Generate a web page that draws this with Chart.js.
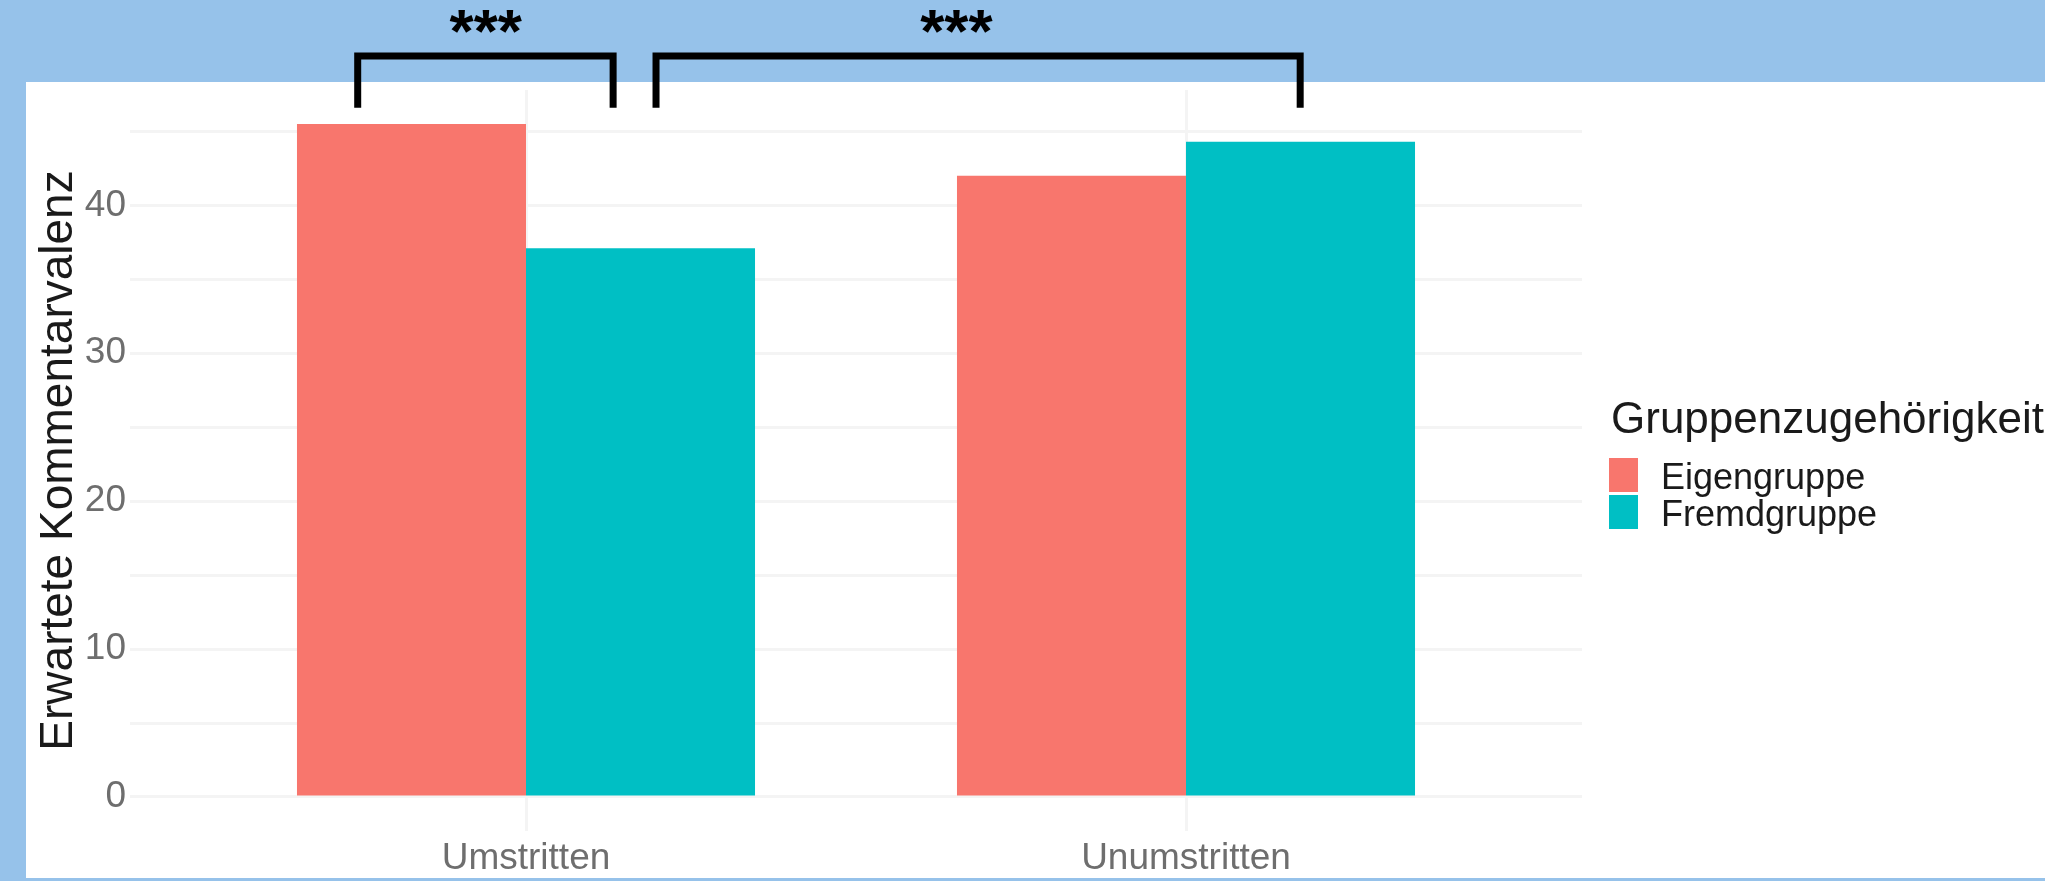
<!DOCTYPE html>
<html>
<head>
<meta charset="utf-8">
<script src="https://cdn.jsdelivr.net/npm/chart.js@4"></script>
<style>
  html, body { margin: 0; padding: 0; background: #96c2ea; }
  #wrap { width: 2045px; height: 881px; }
</style>
</head>
<body>
<div id="wrap"><canvas id="chart" width="2045" height="881"></canvas></div>
<script>
const categories = ['Umstritten', 'Unumstritten'];
const groups = ['Eigengruppe', 'Fremdgruppe'];
const eigengruppe = [45.5, 42.0];
const fremdgruppe = [37.1, 44.3];
const yTicks = [0, 5, 10, 15, 20, 25, 30, 35, 40, 45];
const yLabelTicks = [0, 10, 20, 30, 40];

// significance brackets (x in category units, 1 = Umstritten, 2 = Unumstritten)
const bracketFrom = [0.745, 1.197];
const bracketTo = [1.132, 2.173];
const bracketText = ['***', '***'];
const bracketTextX = [0.939, 1.652];

const colors = ['#F8766D', '#00BFC4'];
const FONT = "'Liberation Sans', Arial, Helvetica, sans-serif";

const toPoints = (vals) => vals.map((v, i) => ({ x: i + 1, y: v }));

const panelBg = {
    id: 'panelBg',
    beforeDraw(chart) {
        const ctx = chart.ctx;
        ctx.save();
        ctx.fillStyle = '#ffffff';
        ctx.fillRect(26, 82, chart.width - 26, 796);
        ctx.restore();
    }
};

const brackets = {
    id: 'brackets',
    afterDraw(chart) {
        const ctx = chart.ctx;
        const xs = chart.scales.x;
        const ys = chart.scales.y;
        const top = ys.getPixelForValue(50.1);
        const bottom = ys.getPixelForValue(46.6);
        ctx.save();
        ctx.strokeStyle = '#000';
        ctx.lineWidth = 7;
        ctx.lineJoin = 'miter';
        ctx.lineCap = 'butt';
        bracketFrom.forEach((from, i) => {
            const x1 = xs.getPixelForValue(from);
            const x2 = xs.getPixelForValue(bracketTo[i]);
            ctx.beginPath();
            ctx.moveTo(x1, bottom);
            ctx.lineTo(x1, top);
            ctx.lineTo(x2, top);
            ctx.lineTo(x2, bottom);
            ctx.stroke();
            ctx.fillStyle = '#000';
            ctx.font = 'bold 62px ' + FONT;
            ctx.textAlign = 'center';
            ctx.textBaseline = 'alphabetic';
            ctx.fillText(bracketText[i], xs.getPixelForValue(bracketTextX[i]), top - 4);
        });
        ctx.restore();
    }
};

const legendBox = {
    id: 'legendBox',
    afterDraw(chart) {
        const ctx = chart.ctx;
        ctx.save();
        ctx.fillStyle = '#1a1a1a';
        ctx.font = '44px ' + FONT;
        ctx.textAlign = 'left';
        ctx.textBaseline = 'alphabetic';
        ctx.fillText('Gruppenzugehörigkeit', 1611, 433);
        chart.data.datasets.forEach((ds, i) => {
            const y = 458 + i * 37;
            ctx.fillStyle = ds.backgroundColor;
            ctx.fillRect(1609, y, 29, 34);
            ctx.fillStyle = '#1a1a1a';
            ctx.font = '36px ' + FONT;
            ctx.fillText(ds.label, 1661, y + 31);
        });
        ctx.restore();
    }
};

const ctx = document.getElementById('chart').getContext('2d');
new Chart(ctx, {
    type: 'bar',
    data: {
        datasets: [
            { label: groups[0], data: toPoints(eigengruppe), backgroundColor: colors[0] },
            { label: groups[1], data: toPoints(fremdgruppe), backgroundColor: colors[1] }
        ]
    },
    options: {
        responsive: false,
        animation: false,
        devicePixelRatio: 1,
        categoryPercentage: 0.694,
        barPercentage: 1,
        layout: { padding: { left: 26, top: 90, right: 463, bottom: 3 } },
        plugins: {
            legend: { display: false },
            tooltip: { enabled: false }
        },
        scales: {
            x: {
                type: 'linear',
                min: 0.4,
                max: 2.6,
                offset: false,
                afterBuildTicks: (scale) => { scale.ticks = categories.map((c, i) => ({ value: i + 1 })); },
                afterFit: (scale) => { scale.height = 47; },
                ticks: {
                    callback: (v) => categories[v - 1] || '',
                    color: '#6e6e6e',
                    font: { family: FONT, size: 37 },
                    padding: 6,
                    maxRotation: 0
                },
                grid: { color: '#f4f4f4', lineWidth: 3, drawTicks: false, offset: false },
                border: { display: false }
            },
            y: {
                min: -2.3,
                max: 47.8,
                afterBuildTicks: (scale) => { scale.ticks = yTicks.map(v => ({ value: v })); },
                afterFit: (scale) => { scale.width = 104; },
                ticks: {
                    callback: (v) => yLabelTicks.includes(v) ? String(v) : '',
                    color: '#6e6e6e',
                    font: { family: FONT, size: 37 },
                    padding: 4
                },
                grid: { color: '#f4f4f4', lineWidth: 3, drawTicks: false },
                border: { display: false },
                title: {
                    display: true,
                    text: 'Erwartete Kommentarvalenz',
                    color: '#1a1a1a',
                    font: { family: FONT, size: 46, lineHeight: 1 },
                    padding: { top: 10, bottom: 0 }
                }
            }
        }
    },
    plugins: [panelBg, brackets, legendBox]
});
</script>
</body>
</html>
